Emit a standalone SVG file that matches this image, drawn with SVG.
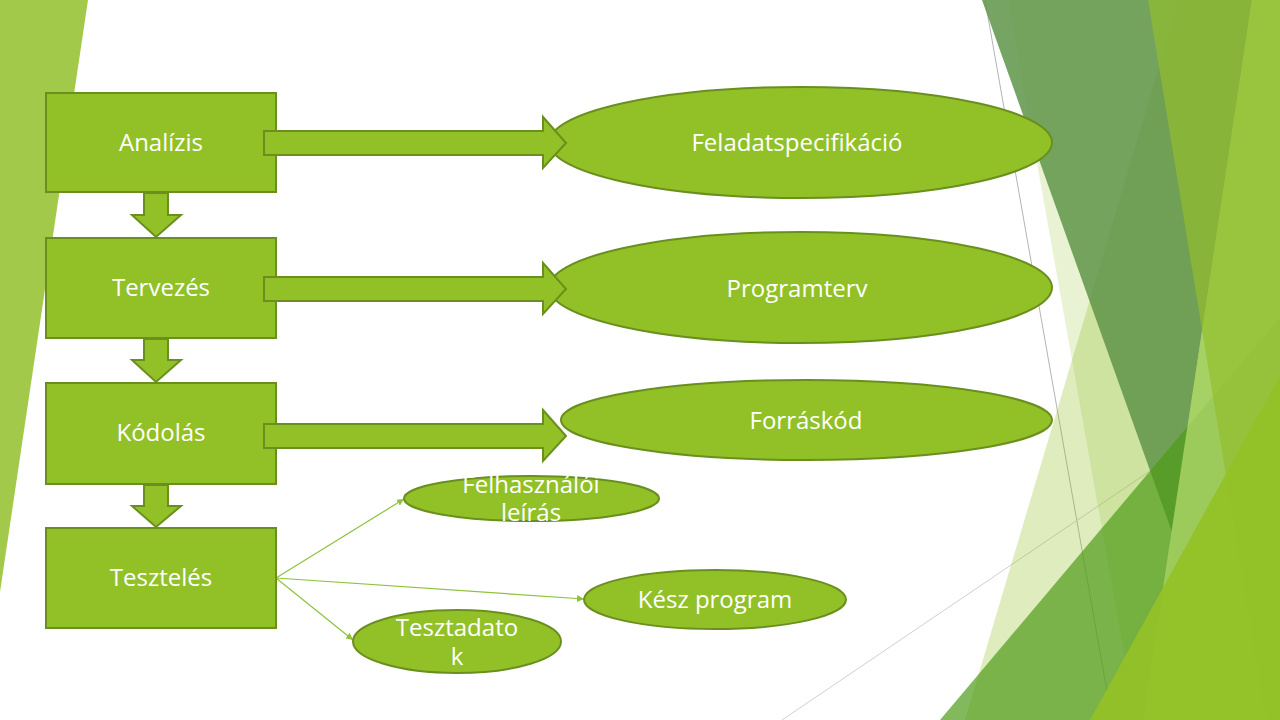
<svg xmlns="http://www.w3.org/2000/svg" width="1280" height="720" viewBox="0 0 1280 720">
<defs>
<style>
.box{fill:#92c127;stroke:#6a8f1e;stroke-width:2}
.ell{fill:#92c127;stroke:#6a8f1e;stroke-width:2}
.barrow{fill:#92c127;stroke:#6a8f1e;stroke-width:2;stroke-linejoin:miter}
.lbl{font-family:"Open Sans","DejaVu Sans",sans-serif;font-size:24px;fill:#ffffff;text-anchor:middle}
.conn{stroke:#8fc23a;stroke-width:1.2;fill:none}
</style>
<marker id="ah" viewBox="0 0 10 10" refX="10" refY="5" markerWidth="7" markerHeight="7" orient="auto" markerUnits="userSpaceOnUse">
<path d="M0,0 L10,5 L0,10 z" fill="#8fc23a"/>
</marker>
</defs>
<rect width="1280" height="720" fill="#ffffff"/>
<g id="background">
<polygon points="0,0 88,0 0,592" fill="#a3c94b"/>
<line x1="985" y1="0" x2="1112" y2="720" stroke="#b4b4b4" stroke-width="1"/>
<line x1="782" y1="720" x2="1280" y2="383" stroke="#cfcfcf" stroke-width="1"/>
<polygon points="1179,0 1280,0 1280,720 965,720" fill="#92c127" fill-opacity="0.3"/>
<polygon points="1008,0 1280,0 1280,720 1136,720" fill="#92c127" fill-opacity="0.2"/>
<polygon points="982,0 1252,0 1172,532" fill="#5e9448" fill-opacity="0.85"/>
<polygon points="940,720 1280,317 1280,720" fill="#4f9b18" fill-opacity="0.7"/>
<polygon points="1252,0 1280,0 1280,720 1143,720" fill="#a1ce5e" fill-opacity="0.9"/>
<polygon points="1148,0 1280,0 1280,720 1266,720" fill="#93be2b" fill-opacity="0.66"/>
<polygon points="1090,720 1280,376 1280,720" fill="#92c127" fill-opacity="0.95"/>
</g>
<g id="connectors">
<line class="conn" x1="276" y1="578" x2="404" y2="499" marker-end="url(#ah)"/>
<line class="conn" x1="276" y1="578" x2="584" y2="599" marker-end="url(#ah)"/>
<line class="conn" x1="276" y1="578" x2="353" y2="640" marker-end="url(#ah)"/>
</g>
<g id="analizis"><rect class="box" x="46" y="93" width="230" height="99"/><text class="lbl" x="161" y="151">Analízis</text></g>
<g id="tervezes"><rect class="box" x="46" y="238" width="230" height="100"/><text class="lbl" x="161" y="296">Tervezés</text></g>
<g id="kodolas"><rect class="box" x="46" y="383" width="230" height="101"/><text class="lbl" x="161" y="441">Kódolás</text></g>
<g id="teszteles"><rect class="box" x="46" y="528" width="230" height="100"/><text class="lbl" x="161" y="586">Tesztelés</text></g>
<g id="feladatspecifikacio"><ellipse class="ell" cx="800.5" cy="142.5" rx="251.5" ry="55.5"/><text class="lbl" x="797" y="151">Feladatspecifikáció</text></g>
<g id="programterv"><ellipse class="ell" cx="800.5" cy="287.5" rx="251.5" ry="55.5"/><text class="lbl" x="797" y="297">Programterv</text></g>
<g id="forraskod"><ellipse class="ell" cx="806.5" cy="420" rx="245.5" ry="40"/><text class="lbl" x="806" y="429">Forráskód</text></g>
<g id="felhasznaloi-leiras"><ellipse class="ell" cx="531.5" cy="498.5" rx="127.5" ry="22.5"/><text class="lbl" x="531" y="493">Felhasználói</text><text class="lbl" x="531" y="521">leírás</text></g>
<g id="kesz-program"><ellipse class="ell" cx="715" cy="599.5" rx="131" ry="29.5"/><text class="lbl" x="715" y="608">Kész program</text></g>
<g id="tesztadatok"><ellipse class="ell" cx="457" cy="641.5" rx="104" ry="31.5"/><text class="lbl" x="457" y="636">Tesztadato</text><text class="lbl" x="457" y="665">k</text></g>
<g id="arrows">
<polygon class="barrow" points="264,131 543,131 543,117 566,143 543,168 543,155 264,155"/>
<polygon class="barrow" points="264,277 543,277 543,263 566,289 543,314 543,301 264,301"/>
<polygon class="barrow" points="264,424 543,424 543,410 566,436 543,461 543,448 264,448"/>
<polygon class="barrow" points="144,193 168,193 168,215 181,215 156,237 132,215 144,215"/>
<polygon class="barrow" points="144,339 168,339 168,360 181,360 156,382 132,360 144,360"/>
<polygon class="barrow" points="144,485 168,485 168,506 181,506 156,527 132,506 144,506"/>
</g>
</svg>
